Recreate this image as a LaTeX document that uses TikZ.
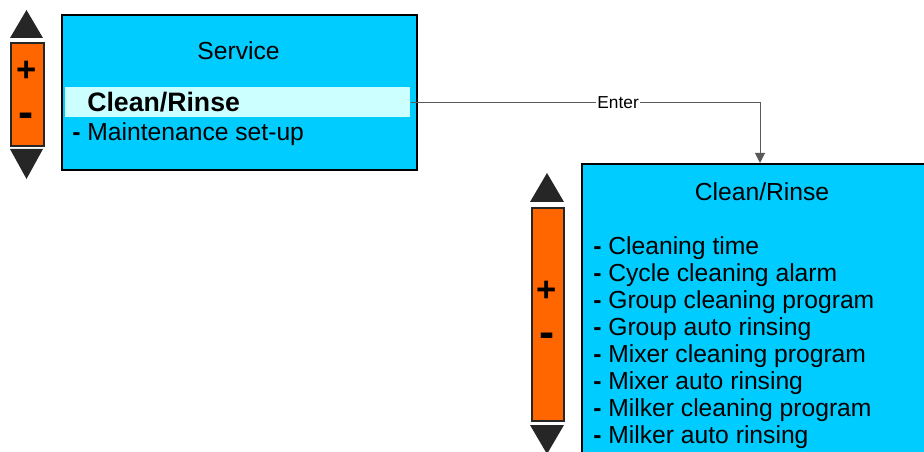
\documentclass[tikz,border=0pt]{standalone}
\usepackage{fontspec}
\setmainfont{Liberation Sans}
\usepackage{tikz}
\usetikzlibrary{arrows.meta, positioning}
\definecolor{scrcyan}{RGB}{0,204,255}
\definecolor{selcyan}{RGB}{204,255,255}
\definecolor{keyorange}{RGB}{255,102,0}
\definecolor{keydark}{RGB}{38,38,38}
\definecolor{linegray}{RGB}{90,90,90}
\tikzset{
  menubox/.style={rectangle, draw=black, fill=scrcyan, line width=1.5pt, inner sep=0pt},
  highlight/.style={rectangle, fill=selcyan, inner sep=0pt},
  keybar/.style={rectangle, draw=keydark, fill=keyorange, line width=1.2pt, inner sep=0pt},
  keytri/.style={fill=keydark},
  keytext/.style={font=\fontsize{26}{26}\selectfont\bfseries, inner sep=0pt},
  minustext/.style={font=\fontsize{34}{34}\selectfont\bfseries, inner sep=0pt},
  menutext/.style={anchor=west, inner sep=0pt, font=\fontsize{18.5}{20}\selectfont},
  arrow/.style={-{Triangle[width=7.5pt, length=7.5pt]}, line width=0.75pt, color=linegray}
}
\begin{document}
\begin{tikzpicture}[x=0.75pt, y=-0.75pt]
  \useasboundingbox (0,0) rectangle (924,452);
  \clip (0,0) rectangle (924,452);

  % Service screen
  \node[menubox, anchor=north west, minimum width=266.25pt, minimum height=116.25pt] (service) at (61,14) {};
  \node[highlight, anchor=north west, minimum width=258.75pt, minimum height=22.5pt] (selbar) at (65,87) {};
  \node[menutext, anchor=center] (servtitle) at (238.5,51) {Service};
  \node[menutext, font=\fontsize{20}{20}\selectfont\bfseries] (selitem) at (87,102) {Clean/Rinse};
  \node[menutext] (mainitem) at (72,134) {\textbf{-} Maintenance set-up};

  % Keys of the Service screen
  \fill[keytri] (10,38) -- (26.5,10) -- (43,38) -- cycle;
  \node[keybar, anchor=north west, minimum width=24.75pt, minimum height=77.25pt] (keys1) at (10,42) {};
  \fill[keytri] (10,149) -- (43,149) -- (26.5,179) -- cycle;
  \node[keytext] (plus1) at (26.5,71) {+};
  \node[minustext] (minus1) at (26.5,120) {-};

  % Clean/Rinse screen
  \node[menubox, anchor=north west, minimum width=267pt, minimum height=225pt] (cleanbox) at (581,163) {};
  \node[menutext, anchor=center] (cleantitle) at (762,192) {Clean/Rinse};
  \foreach \entry [count=\i] in {Cleaning time, Cycle cleaning alarm, Group cleaning program,
      Group auto rinsing, Mixer cleaning program, Mixer auto rinsing,
      Milker cleaning program, Milker auto rinsing}
    \node[menutext] (item\i) at (593,221+27*\i) {\textbf{-} \entry};

  % Keys of the Clean/Rinse screen
  \fill[keytri] (530,202) -- (547,173) -- (564,202) -- cycle;
  \node[keybar, anchor=north west, minimum width=24pt, minimum height=159.75pt] (keys2) at (531,207) {};
  \fill[keytri] (530,425) -- (564,425) -- (547,454) -- cycle;
  \node[keytext] (plus2) at (547,291) {+};
  \node[minustext] (minus2) at (547,340) {-};

  % Connection
  \draw[arrow] (selbar.east) -| node[pos=0.297, fill=white, inner sep=1pt, text=black, font=\fontsize{13}{13}\selectfont] {Enter} (cleanbox.north);
\end{tikzpicture}
\end{document}
